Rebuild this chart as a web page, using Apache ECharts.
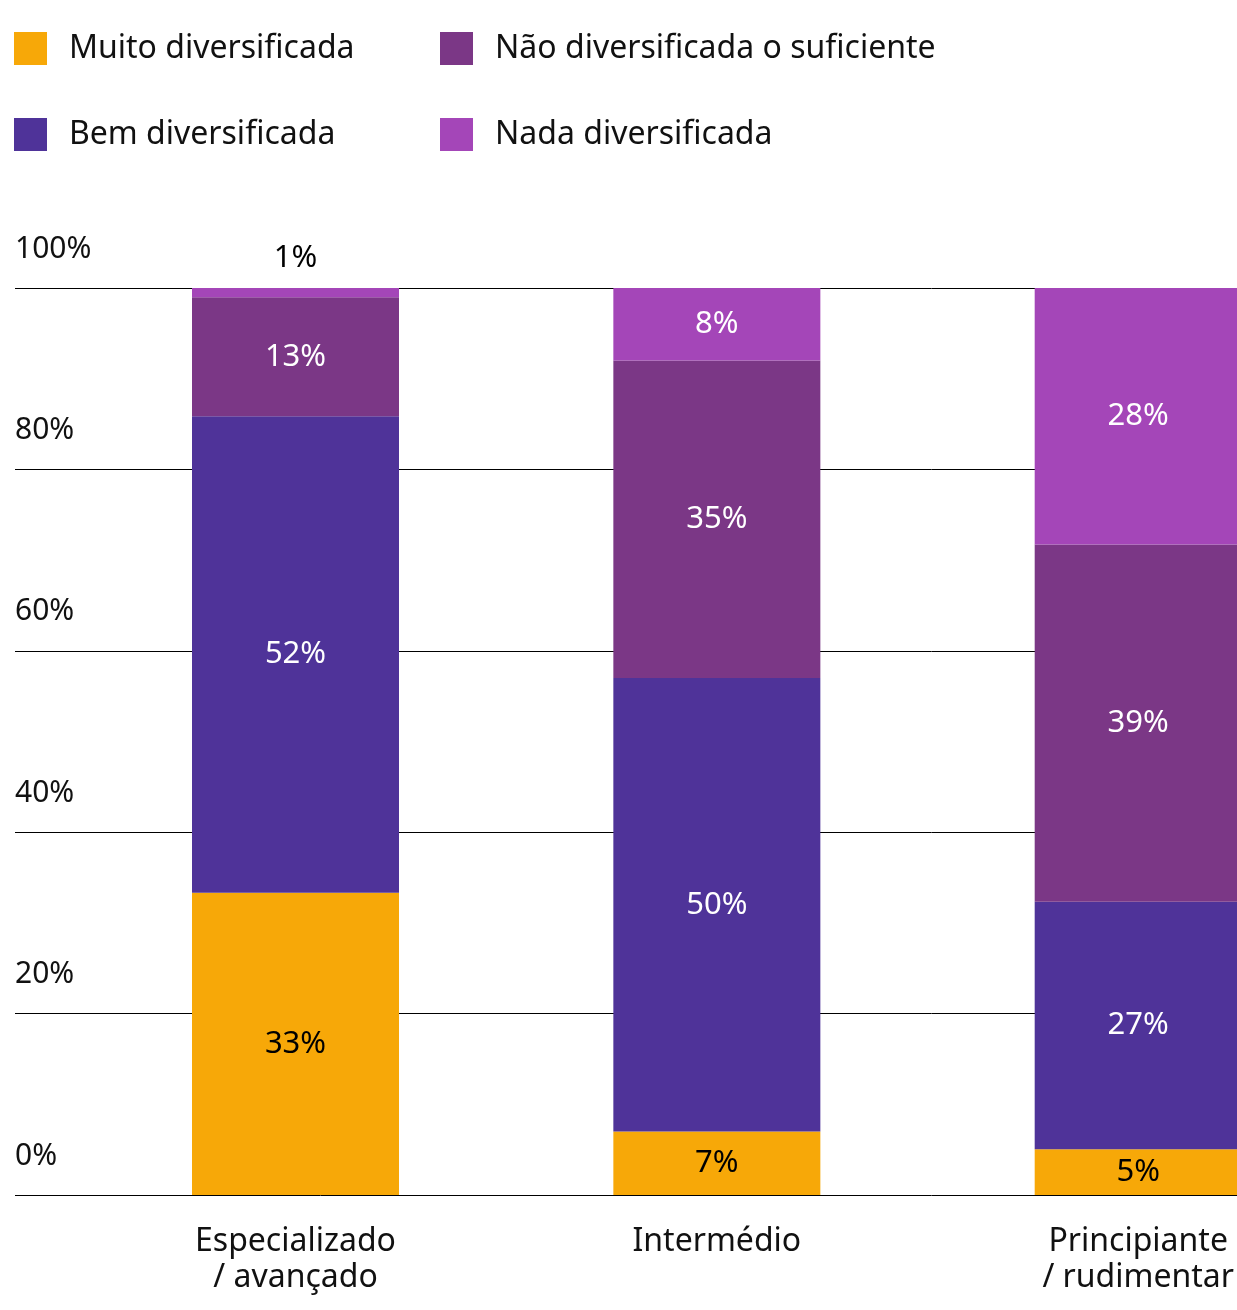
<!DOCTYPE html>
<html>
<head>
<meta charset="utf-8">
<script src="https://cdn.jsdelivr.net/npm/echarts@6/dist/echarts.min.js"></script>
<style>
html,body{margin:0;padding:0;background:#fff;}
#chart{width:1237px;height:1310px;}
</style>
</head>
<body>
<div id="chart"></div>
<script>
const categories = ['Especializado\n/ avançado', 'Intermédio', 'Principiante\n/ rudimentar'];
const seriesNames = ['Muito diversificada', 'Bem diversificada', 'Não diversificada o suficiente', 'Nada diversificada'];
const muito = [33, 7, 5];
const bem = [52, 50, 27];
const naoSuficiente = [13, 35, 39];
const nada = [1, 8, 28];
const yTicks = [0, 20, 40, 60, 80, 100];

const colors = ['#F7A808', '#4F3399', '#7B3786', '#A446B8'];
const labelColors = ['#000', '#fff', '#fff', '#fff'];
const raw = [muito, bem, naoSuficiente, nada];
const totals = categories.map((c, i) => raw.reduce((s, arr) => s + arr[i], 0));

const FONT = 'Noto Sans';

const series = raw.map((arr, si) => ({
  name: seriesNames[si],
  type: 'bar',
  stack: 'total',
  xAxisIndex: 1,
  yAxisIndex: 1,
  barWidth: 207,
  clip: false,
  itemStyle: { color: colors[si] },
  data: arr.map((v, ci) => {
    const d = { value: v / totals[ci] * 100, raw: v };
    if (v <= 2) {
      d.label = { position: 'top', color: '#000', distance: 14 };
    }
    return d;
  }),
  label: {
    show: true,
    position: 'inside',
    color: labelColors[si],
    fontFamily: FONT,
    fontSize: 31,
    formatter: p => p.data.raw + '%'
  }
}));

const legendPos = [
  { left: 14, top: 32 },
  { left: 14, top: 118 },
  { left: 440, top: 32 },
  { left: 440, top: 118 }
];
const legends = seriesNames.map((n, i) => ({
  data: [n],
  left: legendPos[i].left,
  top: legendPos[i].top,
  icon: 'rect',
  itemWidth: 33,
  itemHeight: 33,
  selectedMode: false,
  padding: 0,
  textStyle: { fontFamily: FONT, fontSize: 32, color: '#111', padding: [0, 0, 0, 17] }
}));

const chart = echarts.init(document.getElementById('chart'), null, { renderer: 'canvas' });
chart.setOption({
  animation: false,
  backgroundColor: '#fff',
  legend: legends,
  grid: [
    { left: 15, right: 0, top: 288, bottom: 115 },
    { left: 295.5, right: 97.5, top: 288, bottom: 115 }
  ],
  xAxis: [
    { gridIndex: 0, type: 'category', data: [''], show: false },
    {
      gridIndex: 1, type: 'category', data: categories, boundaryGap: false,
      axisLine: { show: false }, axisTick: { show: false },
      splitLine: { show: false },
      axisLabel: { fontFamily: FONT, fontSize: 32, color: '#111', lineHeight: 36, margin: 29 }
    }
  ],
  yAxis: [
    {
      gridIndex: 0, type: 'value', min: 0, max: 100, interval: 20,
      axisLine: { show: false }, axisTick: { show: false },
      splitLine: { show: true, lineStyle: { color: '#000', width: 1 } },
      axisLabel: {
        inside: true, margin: 0, align: 'left', verticalAlign: 'bottom',
        fontFamily: FONT, fontSize: 30, color: '#111',
        padding: [0, 0, 24, 0],
        formatter: v => yTicks.includes(v) ? v + '%' : ''
      }
    },
    {
      gridIndex: 1, type: 'value', min: 0, max: 100, interval: 20,
      show: false, splitLine: { show: false }
    }
  ],
  series: series
});
</script>
</body>
</html>
